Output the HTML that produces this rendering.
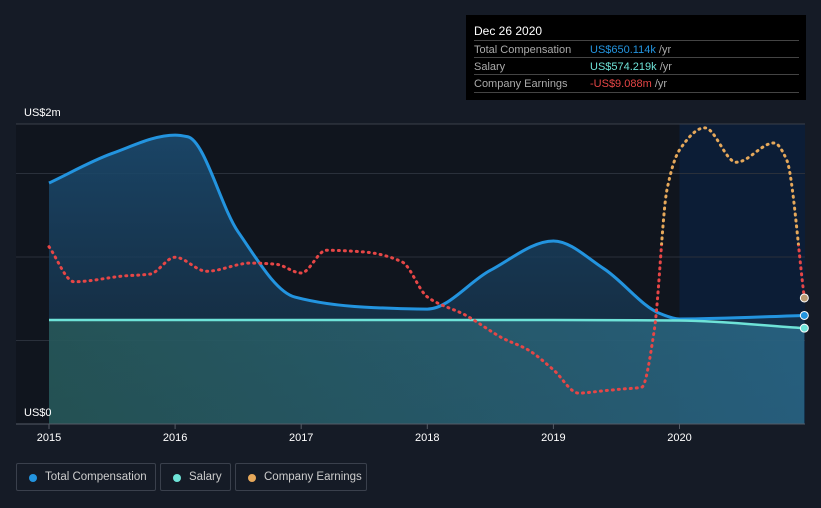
<!DOCTYPE html>
<html><head><meta charset="utf-8"><style>
body{margin:0;background:#151b26;width:821px;height:508px;overflow:hidden;font-family:"Liberation Sans",sans-serif;}
svg{position:absolute;left:0;top:0}
.tt{position:absolute;left:466px;top:15px;width:340px;height:85px;background:#000;color:#fff;font-size:11px}
.tt .row{position:absolute;left:8px;width:325px;height:17px;border-top:1px solid #444;}
.tt .l{position:absolute;left:0;top:3px;color:#aaa}
.tt .v{position:absolute;left:116px;top:3px}
.leg{position:absolute;top:463px;height:28px;border:1px solid #3a404c;border-radius:2px;color:#ccc;font-size:11.5px;line-height:27px;box-sizing:border-box;white-space:nowrap}
.leg i{position:absolute;left:12px;top:10px;width:8px;height:8px;border-radius:50%}
.leg span{position:absolute;left:28px}
</style></head><body>
<svg id="c" width="821" height="508"></svg>
<div class="tt">
<div style="position:absolute;left:8px;top:9px;font-size:12px">Dec 26 2020</div>
<div class="row" style="top:25px"><span class="l">Total Compensation</span><span class="v" style="color:#2394df">US$650.114k <span style="color:#aaa">/yr</span></span></div>
<div class="row" style="top:42px"><span class="l">Salary</span><span class="v" style="color:#6ee3d8">US$574.219k <span style="color:#aaa">/yr</span></span></div>
<div class="row" style="top:59px;border-bottom:1px solid #444"><span class="l">Company Earnings</span><span class="v" style="color:#e64646">-US$9.088m <span style="color:#aaa">/yr</span></span></div>
</div>
<div class="leg" style="left:16px;width:140px"><i style="background:#2394df"></i><span>Total Compensation</span></div>
<div class="leg" style="left:160px;width:71px"><i style="background:#6ee3d8"></i><span>Salary</span></div>
<div class="leg" style="left:235px;width:132px"><i style="background:#e6a85a"></i><span>Company Earnings</span></div>
<script>
const compT=[2015,2015.5,2016,2016.1,2016.5,2016.95,2017.5,2018,2018.5,2019,2019.4,2019.85,2020,2020.99];
const totalComp=[1.443,1.62,1.73,1.72,1.15,0.76,0.70,0.688,0.92,1.096,0.93,0.66,0.629,0.650];
const salaryT=[2015,2016,2017,2018,2019,2020,2020.99];
const salary=[0.623,0.623,0.623,0.623,0.623,0.620,0.574];
const earnT=[2015,2015.2,2015.6,2015.8,2016,2016.25,2016.6,2016.8,2017,2017.2,2017.5,2017.8,2018,2018.3,2018.6,2018.8,2019,2019.2,2019.4,2019.55,2019.7,2019.8,2019.9,2020,2020.2,2020.45,2020.75,2020.85,2020.99];
const earnings=[-0.3,-6.3,-5.3,-5.0,-2.1,-4.5,-3.1,-3.3,-4.8,-0.9,-1.2,-2.9,-8.9,-12.0,-16.0,-18.0,-21.4,-25.4,-25.0,-24.7,-24.4,-14.6,9.4,16.3,20.1,14.2,17.5,14.6,-9.088];
const yearTicks=[2015,2016,2017,2018,2019,2020];
const X=t=>49+(t-2015)*126.1, Y=v=>424-v*167, YE=v=>245-v*5.83;
const s=document.getElementById('c'),NS='http://www.w3.org/2000/svg';
function el(tag,a,name){const e=document.createElementNS(NS,tag);for(const k in a)e.setAttribute(k,a[k]);


s.appendChild(e);return e;}
function path(xs,ys){const n=xs.length,d=[],m=[];for(let i=0;i<n-1;i++){d.push((ys[i+1]-ys[i])/(xs[i+1]-xs[i]));}
m[0]=d[0];m[n-1]=d[n-2];for(let i=1;i<n-1;i++){if(d[i-1]*d[i]<=0)m[i]=0;else{const h0=xs[i]-xs[i-1],h1=xs[i+1]-xs[i];m[i]=3*(h0+h1)/((2*h1+h0)/d[i-1]+(h1+2*h0)/d[i]);}}
let p=`M${xs[0]},${ys[0]}`;for(let i=0;i<n-1;i++){const h=(xs[i+1]-xs[i])/3;p+=`C${xs[i]+h},${ys[i]+m[i]*h} ${xs[i+1]-h},${ys[i+1]-m[i+1]*h} ${xs[i+1]},${ys[i+1]}`;}return p;}
s.innerHTML='<defs><linearGradient id="gt" x1="0" y1="0" x2="0" y2="1"><stop offset="0" stop-color="#1b4a6e" stop-opacity=".9"/><stop offset="1" stop-color="#153048" stop-opacity=".6"/></linearGradient><linearGradient id="gs" x1="0" y1="0" x2="1" y2="0"><stop offset="0" stop-color="#2a5f5c" stop-opacity=".75"/><stop offset="1" stop-color="#2b6a8a" stop-opacity=".8"/></linearGradient><clipPath id="ca"><rect x="0" y="0" width="821" height="245"/></clipPath><clipPath id="cb"><rect x="0" y="245" width="821" height="300"/></clipPath></defs>';
el('rect',{x:16,y:124,width:789,height:300,fill:'#10151e'},'plot-area');
el('rect',{x:X(2020),y:124,width:805-X(2020),height:300,fill:'#0c1d36'},'highlight-band');
[0.5,1,1.5].forEach(v=>el('line',{x1:16,x2:805,y1:Y(v),y2:Y(v),stroke:'#2a303b'},'gridline'));
el('line',{x1:16,x2:805,y1:124,y2:124,stroke:'#3a404b'},'gridline-top');
const tx=compT.map(X),ty=totalComp.map(Y);
el('path',{d:path(tx,ty)+`L${tx[tx.length-1]},424L${tx[0]},424Z`,fill:'url(#gt)'},'total-comp-area');
const sx=salaryT.map(X),sy=salary.map(Y);
el('path',{d:path(sx,sy)+`L${sx[sx.length-1]},424L${sx[0]},424Z`,fill:'url(#gs)'},'salary-area');
el('path',{d:path(tx,ty),fill:'none',stroke:'#2394df','stroke-width':3},'total-comp-line');
el('path',{d:path(sx,sy),fill:'none',stroke:'#6ee3d8','stroke-width':2.5},'salary-line');
const ed=path(earnT.map(X),earnings.map(YE));
el('path',{d:ed,fill:'none',stroke:'#e6a85a','stroke-width':3,'stroke-dasharray':'1 5','stroke-linecap':'round','clip-path':'url(#ca)'},'earnings-line-positive');
el('path',{d:ed,fill:'none',stroke:'#e64646','stroke-width':3,'stroke-dasharray':'1 5','stroke-linecap':'round','clip-path':'url(#cb)'},'earnings-line-negative');
el('circle',{cx:tx[tx.length-1],cy:ty[ty.length-1],r:4,fill:'#2394df',stroke:'#fff','stroke-width':1},'total-comp-marker');
el('circle',{cx:sx[sx.length-1],cy:sy[sy.length-1],r:4,fill:'#6ee3d8',stroke:'#fff','stroke-width':1},'salary-marker');
el('circle',{cx:X(earnT[earnT.length-1]),cy:YE(earnings[earnings.length-1]),r:4,fill:'#b99a72',stroke:'#fff','stroke-width':1},'earnings-marker');
el('line',{x1:16,x2:805,y1:424,y2:424,stroke:'#555b66'},'x-axis');
yearTicks.forEach(t=>{el('line',{x1:X(t),x2:X(t),y1:424,y2:429,stroke:'#555b66'},'x-tick');
const e=el('text',{x:X(t),y:441,fill:'#fff','font-size':11,'text-anchor':'middle'},'x-tick-label');e.textContent=t;});
let e=el('text',{x:24,y:116,fill:'#fff','font-size':11},'y-label-top');e.textContent='US$2m';
e=el('text',{x:24,y:416,fill:'#fff','font-size':11},'y-label-zero');e.textContent='US$0';
</script></body></html>
